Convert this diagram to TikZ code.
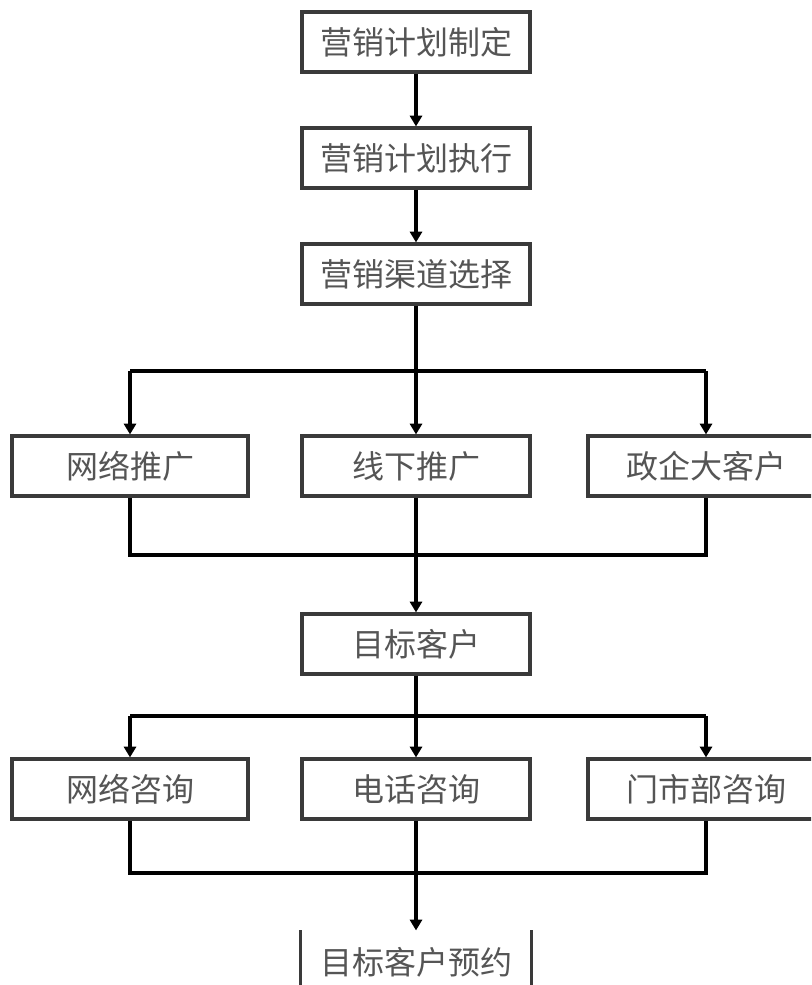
\documentclass[tikz,border=0pt]{standalone}
\usepackage{fontspec}
\newfontfamily\cjk{Noto Sans CJK SC}
\usetikzlibrary{arrows.meta}
\definecolor{boxgray}{HTML}{3A3A3A}
\definecolor{textgray}{HTML}{555555}
\begin{document}
\begin{tikzpicture}[x=0.75pt,y=-0.75pt,
  box/.style={draw=boxgray, line width=2.4pt, fill=white, inner sep=0pt,
    minimum width=171pt, minimum height=45pt,
    font=\cjk\fontsize{24}{24}\selectfont, text=textgray},
  widebox/.style={box, minimum width=177pt},
  conn/.style={line width=2.4pt, black},
  arr/.style={conn, -{Triangle[width=9pt,length=8pt]}},
  sideline/.style={boxgray, line width=2.4pt}]
\useasboundingbox (0,0) rectangle (811,985);
\clip (0,0) rectangle (811,985);

% main column
\node[box] (b1) at (416,42)  {营销计划制定};
\node[box] (b2) at (416,158) {营销计划执行};
\node[box] (b3) at (416,274) {营销渠道选择};

% channel row
\node[widebox] (c1) at (130,466) {网络推广};
\node[box]     (c2) at (416,466) {线下推广};
\node[widebox] (c3) at (706,466) {政企大客户};

\node[box] (t) at (416,644) {目标客户};

% consultation row
\node[widebox] (d1) at (130,789) {网络咨询};
\node[box]     (d2) at (416,789) {电话咨询};
\node[widebox] (d3) at (706,789) {门市部咨询};

% final step, open at the top
\node[box, draw=none] (f) at (416,962) {目标客户预约};
\draw[sideline] (f.north west) -- (f.south west);
\draw[sideline] (f.north east) -- (f.south east);

% junction points
\coordinate (h1) at (416,371);
\coordinate (hL) at (130,371);
\coordinate (hR) at (706,371);
\coordinate (j1) at (416,555);
\coordinate (h2) at (416,716);
\coordinate (kL) at (130,716);
\coordinate (kR) at (706,716);
\coordinate (j2) at (416,873);

% connectors
\draw[arr] (b1) -- (b2);
\draw[arr] (b2) -- (b3);
\draw[conn] (b3) -- (h1);
\draw[conn] (hL) -- (hR);
\draw[arr] (hL) -- (c1);
\draw[arr] (h1) -- (c2);
\draw[arr] (hR) -- (c3);
\draw[conn] (c1) |- (j1) -| (c3);
\draw[arr] (c2) -- (t);

\draw[conn] (t) -- (h2);
\draw[conn] (kL) -- (kR);
\draw[arr] (kL) -- (d1);
\draw[arr] (h2) -- (d2);
\draw[arr] (kR) -- (d3);
\draw[conn] (d1) |- (j2) -| (d3);
\draw[arr] (d2) -- (f.north);
\end{tikzpicture}
\end{document}
